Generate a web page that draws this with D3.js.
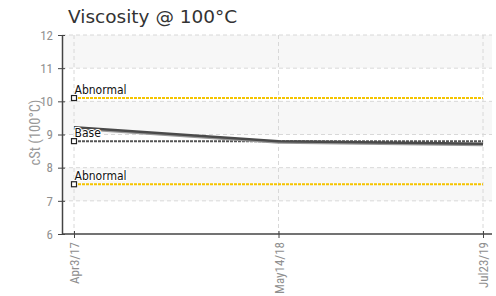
<!DOCTYPE html>
<html><head><meta charset="utf-8">
<script src="https://cdn.jsdelivr.net/npm/d3@7"></script>
<style>
body{margin:0;background:#fff;}
svg{display:block;}
.tick text{font-family:"Liberation Sans Narrow","Roboto Condensed","DejaVu Sans Condensed",sans-serif;}
</style></head>
<body><svg id="c" width="496" height="296"></svg>
<script>
const title = "Viscosity @ 100°C";
const yLabel = "cSt (100°C)";
const dates = ["Apr3/17", "May14/18", "Jul23/19"];
const viscosity = [9.22, 8.8, 8.72];
const yTicks = [6, 7, 8, 9, 10, 11, 12];
const bands = [[11, 12], [9, 10], [7, 8]];
const refNames = ["Abnormal", "Base", "Abnormal"];
const refValues = [10.1, 8.8, 7.5];
const refKinds = ["limit", "base", "limit"];

const svg = d3.select("#c");
const x = d3.scalePoint().domain(dates).range([74, 483]);
const y = d3.scaleLinear().domain([6, 12]).range([234, 35]);
const L = 62, R = 492;

svg.append("text").attr("x", 68).attr("y", 23)
  .attr("font-family", "DejaVu Sans, Verdana, sans-serif").attr("font-size", 18.5)
  .attr("fill", "#333").text(title);

// bands
svg.selectAll("rect.band").data(bands).join("rect").attr("class", "band")
  .attr("x", L).attr("width", R - L)
  .attr("y", d => y(d[1])).attr("height", d => y(d[0]) - y(d[1]))
  .attr("fill", "#f7f7f7");

// horizontal grid
svg.selectAll("line.hg").data(yTicks.filter(t => t > 6)).join("line").attr("class", "hg")
  .attr("x1", L).attr("x2", R).attr("y1", d => y(d)).attr("y2", d => y(d))
  .attr("stroke", "#d8d8d8").attr("stroke-dasharray", "4,3");
// vertical grid
svg.selectAll("line.vg").data(dates).join("line").attr("class", "vg")
  .attr("x1", d => x(d)).attr("x2", d => x(d)).attr("y1", y(12)).attr("y2", y(6))
  .attr("stroke", "#d8d8d8").attr("stroke-dasharray", "4,3");

// reference lines
const refs = refValues.map((v, i) => ({v, name: refNames[i], kind: refKinds[i]}));
svg.selectAll("line.ref").data(refs).join("line").attr("class", "ref")
  .attr("x1", x(dates[0])).attr("x2", x(dates[dates.length - 1]))
  .attr("y1", d => y(d.v)).attr("y2", d => y(d.v))
  .attr("stroke", d => d.kind === "limit" ? "#f5c400" : "#555")
  .attr("stroke-width", 2)
  .attr("stroke-dasharray", d => d.kind === "limit" ? "3,1" : "3,1");

// series line (with soft shadow)
const line = d3.line().x((d, i) => x(dates[i])).y(d => y(d));
svg.append("path").datum(viscosity).attr("d", line).attr("fill", "none")
  .attr("stroke", "#999").attr("stroke-width", 2).attr("transform", "translate(0,1.5)");
svg.append("path").datum(viscosity).attr("d", line).attr("fill", "none")
  .attr("stroke", "#4a4a4a").attr("stroke-width", 2.5);

// markers and labels
svg.selectAll("rect.mk").data(refs).join("rect").attr("class", "mk")
  .attr("x", x(dates[0]) - 2.5).attr("y", d => y(d.v) - 2.5).attr("width", 5).attr("height", 5)
  .attr("fill", "#fff").attr("stroke", "#222").attr("stroke-width", 1.2);
svg.selectAll("text.rl").data(refs).join("text").attr("class", "rl")
  .attr("x", x(dates[0]) + 0.5).attr("y", d => y(d.v) - 4.5)
  .attr("font-family", "DejaVu Sans Condensed, DejaVu Sans, sans-serif").attr("font-size", 12)
  .attr("fill", "#111").attr("stroke", "#fff").attr("stroke-width", 2).attr("paint-order", "stroke")
  .text(d => d.name);

// axes
const yAxis = svg.append("g").attr("transform", `translate(${L},0)`)
  .call(d3.axisLeft(y).tickValues(yTicks).tickFormat(d3.format("d")).tickSizeInner(5).tickSizeOuter(0).tickPadding(4));
yAxis.select(".domain").attr("stroke", "#444").attr("stroke-width", 1.5);
yAxis.selectAll(".tick line").attr("stroke", "#444").attr("x2", -4).attr("x1", 3);
yAxis.selectAll(".tick text").attr("fill", "#8f8f8f").attr("font-size", 13);

const xAxis = svg.append("g").attr("transform", `translate(0,${y(6)})`)
  .call(d3.axisBottom(x).tickSizeInner(4).tickSizeOuter(0).tickPadding(7));
xAxis.select(".domain").attr("stroke", "#444").attr("stroke-width", 1.5).attr("d", `M${L},0H${R}`);
xAxis.selectAll(".tick line").attr("stroke", "#444").attr("y1", -3).attr("y2", 4);
xAxis.selectAll(".tick text").attr("fill", "#8f8f8f").attr("font-size", 13)
  .attr("transform", "rotate(-90)").attr("text-anchor", "end")
  .attr("x", -8).attr("y", 0).attr("dy", "0.35em");

svg.append("text").attr("transform", `translate(40,${y(9) - 2}) rotate(-90)`)
  .attr("text-anchor", "middle").attr("font-family", "Liberation Sans Narrow, Roboto Condensed, DejaVu Sans Condensed, sans-serif")
  .attr("font-size", 14.5).attr("fill", "#999").text(yLabel);
</script></body></html>
